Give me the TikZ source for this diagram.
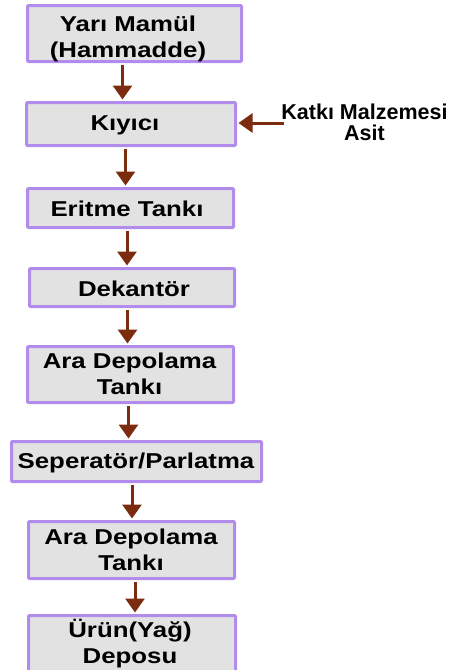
\documentclass[tikz,border=0pt]{standalone}
\usepackage{fontspec}
\setmainfont{Liberation Sans}[FakeStretch=1.2]
\newfontfamily\notefont{Liberation Sans}
\usetikzlibrary{arrows.meta}
\definecolor{boxfill}{HTML}{E2E2E2}
\definecolor{boxline}{HTML}{B28CEB}
\definecolor{flowc}{HTML}{7B2B0E}

\begin{document}
\begin{tikzpicture}[x=1pt,y=-1pt,
  stage/.style={draw=boxline, fill=boxfill, line width=3pt, rounded corners=1pt, inner sep=0pt},
  caption/.style={font=\fontsize{21.5}{25.5}\selectfont\bfseries, align=center, inner sep=0pt, anchor=base},
  note/.style={font=\notefont\fontsize{21.5}{21}\selectfont\bfseries, align=center, inner sep=0pt, anchor=base},
  flow/.style={draw=flowc, line width=3pt, shorten <=1.5pt, shorten >=1.5pt,
    -{Triangle[width=19pt,length=14pt]}}]

\clip (0,0) rectangle (450,670);

% process stages
\node[stage, minimum width=214pt, minimum height=56pt] (b1) at (134.5,33.5) {};
\node[stage, minimum width=209pt, minimum height=43pt] (b2) at (131,124) {};
\node[stage, minimum width=206pt, minimum height=39pt] (b3) at (130.5,208) {};
\node[stage, minimum width=205pt, minimum height=38pt] (b4) at (132,287.5) {};
\node[stage, minimum width=206pt, minimum height=56pt] (b5) at (130.5,374.5) {};
\node[stage, minimum width=250pt, minimum height=40pt] (b6) at (136.5,461.5) {};
\node[stage, minimum width=206pt, minimum height=57pt] (b7) at (131.5,550) {};
\node[stage, minimum width=207pt, minimum height=63pt] (b8) at (132,647) {};

% stage captions (base anchor sits on the last line)
\node[caption] (t1) at (128,57) {Yarı Mamül\\(Hammadde)};
\node[caption] (t2) at (125,130) {Kıyıcı};
\node[caption] (t3) at (127,216) {Eritme Tankı};
\node[caption] (t4) at (134,296) {Dekantör};
\node[caption] (t5) at (129.5,394) {Ara Depolama\\Tankı};
\node[caption] (t6) at (136,468) {Seperatör/Parlatma};
\node[caption] (t7) at (131,570) {Ara Depolama\\Tankı};
\node[caption] (t8) at (130,663) {Ürün(Yağ)\\Deposu};

% additive input
\node[note] (katki) at (364.5,140) {Katkı Malzemesi\\Asit};

% flow arrows
\draw[flow] (b1.south -| 122.5,0) -- (b2.north -| 122.5,0);
\draw[flow] (b2.south -| 125.5,0) -- (b3.north -| 125.5,0);
\draw[flow] (b3.south -| 127,0) -- (b4.north -| 127,0);
\draw[flow] (b4.south -| 127.5,0) -- (b5.north -| 127.5,0);
\draw[flow] (b5.south -| 128.5,0) -- (b6.north -| 128.5,0);
\draw[flow] (b6.south -| 132,0) -- (b7.north -| 132,0);
\draw[flow] (b7.south -| 135,0) -- (b8.north -| 135,0);
\draw[flow, shorten <=0pt] ([xshift=3pt]katki.west |- 0,123) -- (b2.east |- 0,123);

\end{tikzpicture}
\end{document}
